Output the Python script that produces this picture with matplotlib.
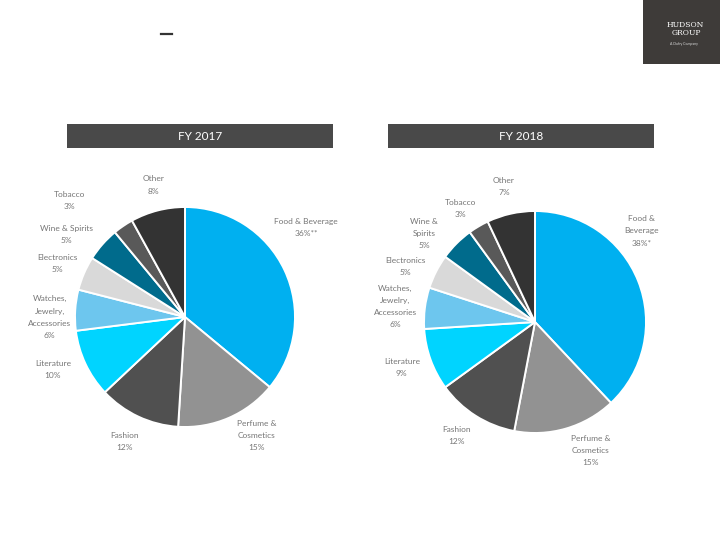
import matplotlib
matplotlib.use("Agg")
import matplotlib.pyplot as plt
from matplotlib.patches import Rectangle, Arc

plt.rcParams['font.family'] = ['Lato', 'DejaVu Sans']

categories = ["Food & Beverage", "Perfume &\nCosmetics", "Fashion", "Literature",
              "Watches,\nJewelry,\nAccessories", "Electronics", "Wine & Spirits",
              "Tobacco", "Other"]
categories_2018 = ["Food &\nBeverage", "Perfume &\nCosmetics", "Fashion", "Literature",
                   "Watches,\nJewelry,\nAccessories", "Electronics", "Wine &\nSpirits",
                   "Tobacco", "Other"]
values_2017 = [36, 15, 12, 10, 6, 5, 5, 3, 8]
values_2018 = [38, 15, 12, 9, 6, 5, 5, 3, 7]
suffix_2017 = ["**", "", "", "", "", "", "", "", ""]
suffix_2018 = ["*", "", "", "", "", "", "", "", ""]
titles = ["FY 2017", "FY 2018"]

colors = ["#00B0F0", "#929292", "#505050", "#00D4FF", "#6DC6EE",
          "#D9D9D9", "#006B8C", "#595959", "#333333"]

# label positions relative to pie centre (in radius units)
lab_pos_2017 = [(1.10, 0.81), (0.65, -1.08), (-0.55, -1.13), (-1.20, -0.48),
                (-1.23, 0.0), (-1.16, 0.49), (-1.08, 0.75), (-1.05, 1.06), (-0.29, 1.20)]
lab_pos_2018 = [(0.96, 0.82), (0.50, -1.16), (-0.71, -1.02), (-1.20, -0.41),
                (-1.26, 0.14), (-1.17, 0.50), (-1.00, 0.80), (-0.67, 1.02), (-0.28, 1.22)]

W, H = 720, 540
fig = plt.figure(figsize=(7.2, 5.4), dpi=100)
fig.patch.set_facecolor("white")

def px_axes(cx, cy, r, k=1.5):
    half = r * k
    return fig.add_axes([(cx - half) / W, (H - (cy + half)) / H, 2 * half / W, 2 * half / H])

pies = [
    (185, 317, 110, values_2017, categories, suffix_2017, lab_pos_2017, 67, 333),
    (535, 322, 111, values_2018, categories_2018, suffix_2018, lab_pos_2018, 388, 654),
]

for i, (cx, cy, r, vals, cats, suf, lpos, hx0, hx1) in enumerate(pies):
    ax = px_axes(cx, cy, r)
    ax.pie(vals, colors=colors, startangle=90, counterclock=False, radius=1.0,
           wedgeprops=dict(edgecolor="white", linewidth=1.4))
    ax.set_xlim(-1.5, 1.5)
    ax.set_ylim(-1.5, 1.5)
    ax.set_aspect("equal")
    ax.axis("off")
    for c, v, s, (lx, ly) in zip(cats, vals, suf, lpos):
        ax.text(lx, ly, f"{c}\n{v}%{s}", ha="center", va="center", fontsize=6.0,
                color="#767676", linespacing=1.85)
    # header bar
    fig.patches.append(Rectangle((hx0 / W, (H - 148) / H), (hx1 - hx0) / W, 24 / H,
                                 transform=fig.transFigure, facecolor="#494949",
                                 edgecolor="none"))
    fig.text((hx0 + hx1) / 2 / W, (H - 136) / H, titles[i], ha="center", va="center",
             color="white", fontsize=8.5)

# small dash near top
fig.add_artist(plt.Line2D([161 / W, 172 / W], [(H - 34) / H] * 2, color="#333333",
                          linewidth=1.6, transform=fig.transFigure))

# logo box
fig.patches.append(Rectangle((643 / W, (H - 64) / H), 77 / W, 64 / H,
                             transform=fig.transFigure, facecolor="#3E3B39",
                             edgecolor="none"))
fig.text(685 / W, (H - 25) / H, "HUDSON", ha="center", va="center", color="white",
         fontsize=5.5, family="DejaVu Serif")
fig.text(686 / W, (H - 33) / H, "GROUP", ha="center", va="center", color="white",
         fontsize=5.5, family="DejaVu Serif")
fig.text(684 / W, (H - 44) / H, "A Dufry Company", ha="center", va="center",
         color="#D9D9D9", fontsize=2.5)
fig.add_artist(Arc((663 / W, (H - 29) / H), 18 / W, 20 / H, theta1=90, theta2=300,
                   color="#1FA3DC", linewidth=1.4, transform=fig.transFigure))

fig.savefig("out.png", dpi=100, facecolor="white")
